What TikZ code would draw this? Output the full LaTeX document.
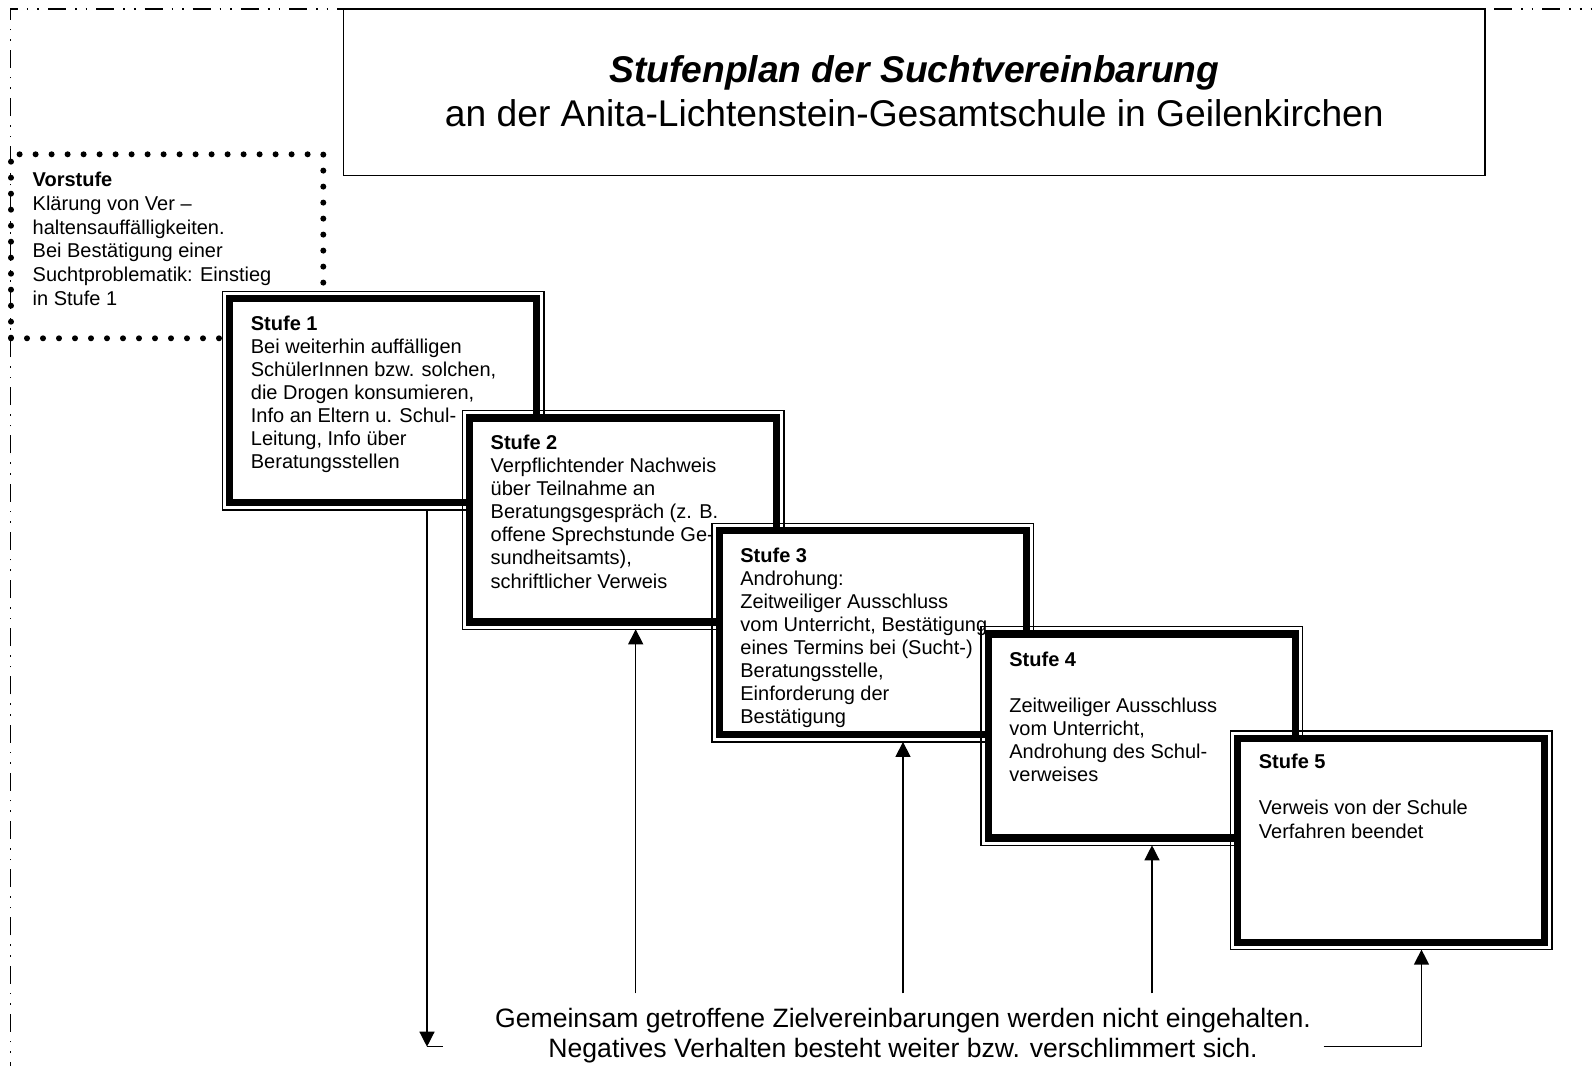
\documentclass[tikz,border=0pt]{standalone}
\usepackage{fontspec}
\setmainfont{Liberation Sans}
\usetikzlibrary{arrows.meta}
\newcommand{\Versatz}{3.65pt}
\newcommand{\Oben}{\rule{0pt}{8pt}}

\tikzset{
  stufe/.style={draw, fill=white, line width=3.65pt, minimum width=153.5pt, minimum height=102pt, inner sep=0pt, outer sep=\Versatz, anchor=north west},
  duenn/.style={line width=0.65pt},
  stufentext/.style={anchor=north west, align=left, inner sep=0pt, font=\fontsize{10pt}{11.55pt}\selectfont},
  pfeil/.style={line width=0.65pt, -{Triangle[length=7.5pt,width=7.5pt]}},
  vorbox/.style={draw, line width=3pt, line cap=round, dash pattern=on 0pt off 8pt, minimum width=156.15pt, minimum height=92pt, inner sep=0pt, outer sep=0pt, anchor=north west},
  aussen/.style={line width=0.7pt, dash pattern=on 9pt off 4.5pt on 0.8pt off 4.5pt on 0.8pt off 4.5pt}
}

\begin{document}
\begin{tikzpicture}[x=0.5pt, y=-0.5pt]

\useasboundingbox (0,0) rectangle (1592,1066);

% aeusserer Rahmen
\draw[aussen] (10.5,1080) -- (10.5,9) -- (1600,9);

% Titel
\node[draw, line width=0.75pt, minimum width=570.65pt, minimum height=83.3pt, inner sep=0pt, outer sep=0pt, anchor=north west] (titel) at (343.7,9) {};
\node[anchor=north, align=center, inner sep=0pt, font=\fontsize{18.6pt}{22pt}\selectfont] (titeltext) at ([yshift=-21.5pt]titel.north)
  {\rule{0pt}{15pt}\textbf{\textit{Stufenplan der Suchtvereinbarung}}\\an der Anita-Lichtenstein-Gesamtschule in Geilenkirchen};

% Vorstufe
\node[vorbox] (vorstufe) at (11,154.3) {};
\node[stufentext, font=\fontsize{10pt}{11.95pt}\selectfont] (vortext) at (32.3,169.8)
  {\Oben\textbf{Vorstufe}\\Klärung von Ver –\\haltensauffälligkeiten.\\Bei Bestätigung einer\\Suchtproblematik: Einstieg\\in Stufe 1};

% Stufe 1
\node[stufe] (stufe1) at (222.5,291.5) {};
\draw[duenn] (stufe1.north west) rectangle (stufe1.south east);
\node[stufentext] (text1) at ([shift={(14pt,-11.15pt)}]stufe1.north west)
  {\Oben\textbf{Stufe 1}\\Bei weiterhin auffälligen\\SchülerInnen bzw. solchen,\\die Drogen konsumieren,\\Info an Eltern u. Schul-\\Leitung, Info über\\Beratungsstellen};

% Stufe 2
\node[stufe] (stufe2) at (462.3,410.7) {};
\draw[duenn] (stufe2.north west) rectangle (stufe2.south east);
\node[stufentext] (text2) at ([shift={(14pt,-11.15pt)}]stufe2.north west)
  {\Oben\textbf{Stufe 2}\\Verpflichtender Nachweis\\über Teilnahme an\\Beratungsgespräch (z. B.\\offene Sprechstunde Ge-\\sundheitsamts),\\schriftlicher Verweis};

% Stufe 3
\node[stufe] (stufe3) at (712,523.3) {};
\draw[duenn] (stufe3.north west) rectangle (stufe3.south east);
\node[stufentext] (text3) at ([shift={(14pt,-11.15pt)}]stufe3.north west)
  {\Oben\textbf{Stufe 3}\\Androhung:\\Zeitweiliger Ausschluss\\vom Unterricht, Bestätigung\\eines Termins bei (Sucht-)\\Beratungsstelle,\\Einforderung der\\Bestätigung};

% Stufe 4
\node[stufe] (stufe4) at (981,626.7) {};
\draw[duenn] (stufe4.north west) rectangle (stufe4.south east);
\node[stufentext] (text4) at ([shift={(14pt,-11.6pt)}]stufe4.north west)
  {\Oben\textbf{Stufe 4}\\[11.55pt]Zeitweiliger Ausschluss\\vom Unterricht,\\Androhung des Schul-\\verweises};

% Stufe 5
\node[stufe] (stufe5) at (1230.5,731) {};
\draw[duenn] (stufe5.north west) rectangle (stufe5.south east);
\node[stufentext] (text5) at ([shift={(14pt,-10.65pt)}]stufe5.north west)
  {\Oben\textbf{Stufe 5}\\[11.55pt]Verweis von der Schule\\Verfahren beendet};

% Hinweis unten
\node[anchor=north, align=center, inner sep=0pt, font=\fontsize{13.3pt}{14.85pt}\selectfont] (hinweis) at (903,1005.3)
  {\rule{0pt}{11pt}Gemeinsam getroffene Zielvereinbarungen werden nicht eingehalten.\\Negatives Verhalten besteht weiter bzw. verschlimmert sich.};

% Pfeile
\coordinate (a1) at (427,1046.7);
\coordinate (a1end) at (443,1046.7);
\draw[pfeil] (stufe1.south -| a1) -- (a1);
\draw[duenn] (a1) -- (a1end);

\coordinate (b2) at (635.7,993.3);
\coordinate (b3) at (903,993.3);
\coordinate (b4) at (1152,993.3);
\draw[pfeil] (b2) -- (b2 |- stufe2.south);
\draw[pfeil] (b3) -- (b3 |- stufe3.south);
\draw[pfeil] (b4) -- (b4 |- stufe4.south);

\coordinate (b5start) at (1323.5,1046.7);
\coordinate (b5) at (1421.5,1046.7);
\draw[pfeil] (b5start) -- (b5) -- (b5 |- stufe5.south);

\end{tikzpicture}
\end{document}
